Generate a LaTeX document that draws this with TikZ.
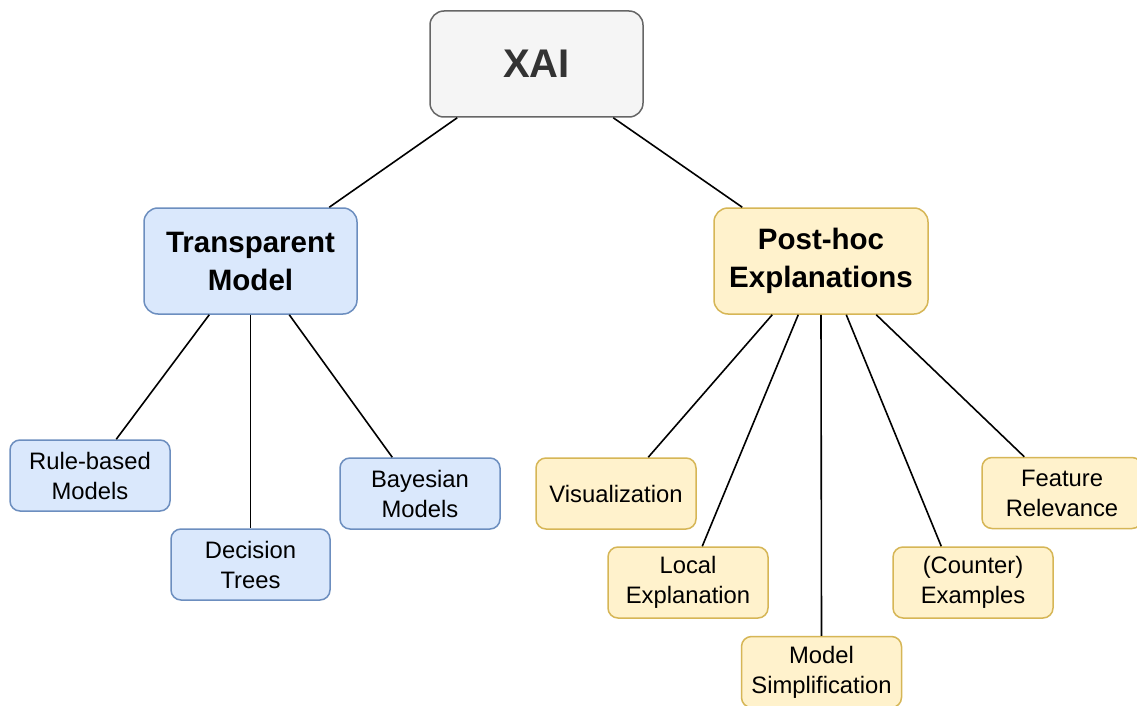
\documentclass[tikz,border=0pt]{standalone}
\usepackage{fontspec}
\setmainfont{Liberation Sans}
\usetikzlibrary{calc}
\definecolor{grayfill}{HTML}{F5F5F5}
\definecolor{graydraw}{HTML}{666666}
\definecolor{bluefill}{HTML}{DAE8FC}
\definecolor{bluedraw}{HTML}{6C8EBF}
\definecolor{yelfill}{HTML}{FFF2CC}
\definecolor{yeldraw}{HTML}{D6B656}
\definecolor{darktext}{HTML}{333333}
\tikzset{
  box/.style={rectangle, rounded corners=10pt, line width=1.5pt, align=center, inner sep=0pt},
  bigbox/.style={box, rounded corners=14pt, minimum width=213pt, minimum height=106pt},
  smallbox/.style={box, minimum width=160pt, minimum height=71pt, font=\fontsize{23.8}{30}\selectfont},
  graybox/.style={bigbox, fill=grayfill, draw=graydraw, text=darktext, font=\fontsize{40}{48}\selectfont\bfseries},
  bluebig/.style={bigbox, fill=bluefill, draw=bluedraw, font=\fontsize{29.5}{38}\selectfont\bfseries},
  yelbig/.style={bigbox, fill=yelfill, draw=yeldraw, font=\fontsize{29.5}{38}\selectfont\bfseries},
  bluesmall/.style={smallbox, fill=bluefill, draw=bluedraw},
  yelsmall/.style={smallbox, fill=yelfill, draw=yeldraw},
  link/.style={draw=black, line width=1.6pt}
}
\begin{document}
\begin{tikzpicture}[x=1pt,y=-1pt]
\useasboundingbox (0,0) rectangle (1137,706);
\fill[white] (0,0) rectangle (1137,706);

\node[graybox] (xai) at (536.5,64) {XAI};
\node[bluebig] (tm) at (250.5,261) {Transparent\\Model};
\node[yelbig, minimum width=214pt] (ph) at (821,261) {Post-hoc\\Explanations};

\node[bluesmall] (rb) at (90,475.5) {Rule-based\\Models};
\node[bluesmall, minimum width=159pt] (dt) at (250.5,564.5) {Decision\\Trees};
\node[bluesmall] (bm) at (420,493.5) {Bayesian\\Models};

\node[yelsmall] (vi) at (616,493.5) {Visualization};
\node[yelsmall] (le) at (688,582.5) {Local\\Explanation};
\node[yelsmall] (ms) at (821.5,672) {Model\\Simplification};
\node[yelsmall] (ce) at (973,582.5) {(Counter)\\Examples};
\node[yelsmall] (fr) at (1062,493) {Feature\\Relevance};

\draw[link] ($(xai.south west)+(28,0)$) -- ($(tm.north west)+(186,0)$);
\draw[link] ($(xai.south west)+(184,0)$) -- ($(ph.north west)+(29,0)$);

\draw[link] ($(tm.south west)+(66,0)$) -- ($(rb.north west)+(107,0)$);
\draw[link] (tm.south) -- (dt.north);
\draw[link] ($(tm.south west)+(146,0)$) -- ($(bm.north west)+(53,0)$);

\draw[link] ($(ph.south west)+(59,0)$) -- ($(vi.north west)+(113,0)$);
\draw[link] ($(ph.south west)+(85,0)$) -- ($(le.north west)+(95,0)$);
\draw[link] (ph.south) -- (ms.north);
\draw[link] ($(ph.south west)+(133,0)$) -- ($(ce.north west)+(49,0)$);
\draw[link] ($(ph.south west)+(163,0)$) -- ($(fr.north west)+(43,0)$);
\end{tikzpicture}
\end{document}
